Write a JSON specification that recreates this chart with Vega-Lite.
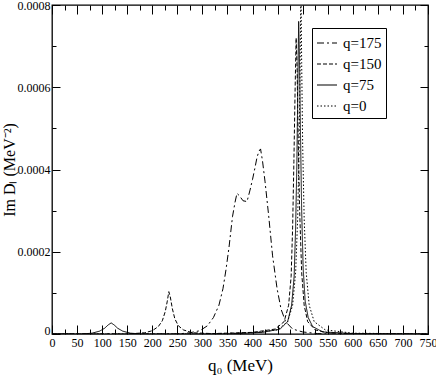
{
  "$schema": "https://vega.github.io/schema/vega-lite/v6.json",
  "width": 376,
  "height": 329,
  "autosize": "none",
  "padding": {"left": 52, "top": 5, "right": 8, "bottom": 48},
  "background": "white",
  "config": {
    "view": {"stroke": "black", "strokeWidth": 1.3},
    "font": "Liberation Serif",
    "axis": {
      "labelFont": "Liberation Serif",
      "titleFont": "Liberation Serif",
      "labelColor": "black",
      "titleColor": "black",
      "tickColor": "black",
      "tickWidth": 1,
      "domain": false,
      "grid": false,
      "titleFontWeight": "normal",
      "labelOverlap": false,
      "labelFlush": false
    }
  },
  "data": {
    "values": [
      {"s": "q=0", "q0": 0, "im": 0},
      {"s": "q=0", "q0": 300, "im": 0},
      {"s": "q=0", "q0": 400, "im": 0.000003},
      {"s": "q=0", "q0": 450, "im": 0.00001},
      {"s": "q=0", "q0": 470, "im": 0.00003},
      {"s": "q=0", "q0": 480, "im": 0.00007},
      {"s": "q=0", "q0": 486, "im": 0.00015},
      {"s": "q=0", "q0": 490, "im": 0.00028},
      {"s": "q=0", "q0": 493, "im": 0.00046},
      {"s": "q=0", "q0": 495, "im": 0.00066},
      {"s": "q=0", "q0": 496.5, "im": 0.00085},
      {"s": "q=0", "q0": 498, "im": 0.00066},
      {"s": "q=0", "q0": 500, "im": 0.00046},
      {"s": "q=0", "q0": 503, "im": 0.00028},
      {"s": "q=0", "q0": 507, "im": 0.00015},
      {"s": "q=0", "q0": 513, "im": 0.00007},
      {"s": "q=0", "q0": 523, "im": 0.00003},
      {"s": "q=0", "q0": 545, "im": 0.00001},
      {"s": "q=0", "q0": 600, "im": 0.000002},
      {"s": "q=0", "q0": 750, "im": 0},

      {"s": "q=75", "q0": 0, "im": 0},
      {"s": "q=75", "q0": 60, "im": 0},
      {"s": "q=75", "q0": 80, "im": 0.000002},
      {"s": "q=75", "q0": 95, "im": 0.000007},
      {"s": "q=75", "q0": 105, "im": 0.000014},
      {"s": "q=75", "q0": 112, "im": 0.000022},
      {"s": "q=75", "q0": 118, "im": 0.000027},
      {"s": "q=75", "q0": 124, "im": 0.000022},
      {"s": "q=75", "q0": 131, "im": 0.000014},
      {"s": "q=75", "q0": 141, "im": 0.000007},
      {"s": "q=75", "q0": 156, "im": 0.000002},
      {"s": "q=75", "q0": 180, "im": 0},
      {"s": "q=75", "q0": 350, "im": 0},
      {"s": "q=75", "q0": 420, "im": 0.000004},
      {"s": "q=75", "q0": 455, "im": 0.000012},
      {"s": "q=75", "q0": 470, "im": 0.00003},
      {"s": "q=75", "q0": 478, "im": 0.00007},
      {"s": "q=75", "q0": 483, "im": 0.00014},
      {"s": "q=75", "q0": 486, "im": 0.00026},
      {"s": "q=75", "q0": 488.5, "im": 0.00042},
      {"s": "q=75", "q0": 490.5, "im": 0.00062},
      {"s": "q=75", "q0": 492, "im": 0.00076},
      {"s": "q=75", "q0": 493.5, "im": 0.00068},
      {"s": "q=75", "q0": 495.5, "im": 0.0005},
      {"s": "q=75", "q0": 498, "im": 0.0003},
      {"s": "q=75", "q0": 501, "im": 0.00016},
      {"s": "q=75", "q0": 505, "im": 0.00008},
      {"s": "q=75", "q0": 511, "im": 0.00004},
      {"s": "q=75", "q0": 520, "im": 0.000018},
      {"s": "q=75", "q0": 540, "im": 0.000005},
      {"s": "q=75", "q0": 600, "im": 0.000001},
      {"s": "q=75", "q0": 750, "im": 0},

      {"s": "q=150", "q0": 0, "im": 0},
      {"s": "q=150", "q0": 150, "im": 0},
      {"s": "q=150", "q0": 185, "im": 0.000003},
      {"s": "q=150", "q0": 200, "im": 0.000008},
      {"s": "q=150", "q0": 212, "im": 0.000018},
      {"s": "q=150", "q0": 220, "im": 0.000032},
      {"s": "q=150", "q0": 226, "im": 0.000055},
      {"s": "q=150", "q0": 230, "im": 0.00008},
      {"s": "q=150", "q0": 233, "im": 0.000103},
      {"s": "q=150", "q0": 236, "im": 0.00009},
      {"s": "q=150", "q0": 240, "im": 0.000062},
      {"s": "q=150", "q0": 245, "im": 0.000037},
      {"s": "q=150", "q0": 252, "im": 0.00002},
      {"s": "q=150", "q0": 262, "im": 0.00001},
      {"s": "q=150", "q0": 280, "im": 0.000003},
      {"s": "q=150", "q0": 320, "im": 0.000001},
      {"s": "q=150", "q0": 400, "im": 0.000004},
      {"s": "q=150", "q0": 445, "im": 0.000012},
      {"s": "q=150", "q0": 463, "im": 0.00003},
      {"s": "q=150", "q0": 472, "im": 0.00007},
      {"s": "q=150", "q0": 477, "im": 0.00014},
      {"s": "q=150", "q0": 480, "im": 0.00026},
      {"s": "q=150", "q0": 482.5, "im": 0.00042},
      {"s": "q=150", "q0": 485, "im": 0.0006},
      {"s": "q=150", "q0": 487, "im": 0.00072},
      {"s": "q=150", "q0": 489, "im": 0.00064},
      {"s": "q=150", "q0": 491, "im": 0.00048},
      {"s": "q=150", "q0": 494, "im": 0.0003},
      {"s": "q=150", "q0": 498, "im": 0.00015},
      {"s": "q=150", "q0": 503, "im": 0.00007},
      {"s": "q=150", "q0": 510, "im": 0.00003},
      {"s": "q=150", "q0": 525, "im": 0.00001},
      {"s": "q=150", "q0": 550, "im": 0.000003},
      {"s": "q=150", "q0": 600, "im": 0},
      {"s": "q=150", "q0": 750, "im": 0},

      {"s": "q=175", "q0": 0, "im": 0},
      {"s": "q=175", "q0": 250, "im": 0},
      {"s": "q=175", "q0": 275, "im": 0.000003},
      {"s": "q=175", "q0": 295, "im": 0.000008},
      {"s": "q=175", "q0": 310, "im": 0.00002},
      {"s": "q=175", "q0": 322, "im": 0.00004},
      {"s": "q=175", "q0": 333, "im": 0.00007},
      {"s": "q=175", "q0": 341, "im": 0.00011},
      {"s": "q=175", "q0": 347, "im": 0.000156},
      {"s": "q=175", "q0": 353, "im": 0.00021},
      {"s": "q=175", "q0": 360, "im": 0.000285},
      {"s": "q=175", "q0": 365, "im": 0.00032},
      {"s": "q=175", "q0": 369, "im": 0.000342},
      {"s": "q=175", "q0": 374, "im": 0.000336},
      {"s": "q=175", "q0": 381, "im": 0.000324},
      {"s": "q=175", "q0": 389, "im": 0.000322},
      {"s": "q=175", "q0": 395, "im": 0.00035},
      {"s": "q=175", "q0": 400, "im": 0.000376},
      {"s": "q=175", "q0": 405, "im": 0.000405},
      {"s": "q=175", "q0": 409, "im": 0.00043},
      {"s": "q=175", "q0": 413, "im": 0.000445},
      {"s": "q=175", "q0": 416, "im": 0.00045},
      {"s": "q=175", "q0": 420, "im": 0.00042},
      {"s": "q=175", "q0": 425, "im": 0.00037},
      {"s": "q=175", "q0": 432, "im": 0.00029},
      {"s": "q=175", "q0": 440, "im": 0.00019},
      {"s": "q=175", "q0": 449, "im": 0.00011},
      {"s": "q=175", "q0": 457, "im": 0.00006},
      {"s": "q=175", "q0": 466, "im": 0.00003},
      {"s": "q=175", "q0": 480, "im": 0.000012},
      {"s": "q=175", "q0": 500, "im": 0.000005},
      {"s": "q=175", "q0": 530, "im": 0.000001},
      {"s": "q=175", "q0": 560, "im": 0},
      {"s": "q=175", "q0": 750, "im": 0}
    ]
  },
  "layer": [
    {
      "mark": {"type": "line", "color": "black", "strokeWidth": 1, "clip": true},
      "encoding": {
        "x": {
          "field": "q0", "type": "quantitative",
          "scale": {"domain": [0, 750], "nice": false, "zero": false},
          "axis": {
            "orient": "bottom",
            "values": [0,25,50,75,100,125,150,175,200,225,250,275,300,325,350,375,400,425,450,475,500,525,550,575,600,625,650,675,700,725,750],
            "labelExpr": "datum.value % 50 === 0 ? datum.label : ''",
            "tickSize": {"condition": {"test": "datum.value % 50 === 0", "value": -9}, "value": -5},
            "labelPadding": 12,
            "labelFontSize": 12,
            "title": "q₀ (MeV)",
            "titleFontSize": 17,
            "titlePadding": 5
          }
        },
        "y": {
          "field": "im", "type": "quantitative",
          "scale": {"domain": [0, 0.0008], "nice": false},
          "axis": {
            "orient": "left",
            "values": [0, 0.0001, 0.0002, 0.0003, 0.0004, 0.0005, 0.0006, 0.0007, 0.0008],
            "labelExpr": "round(datum.value*10000) % 2 === 0 ? (datum.value === 0 ? '0' : format(datum.value, '.4f')) : ''",
            "tickSize": {"condition": {"test": "round(datum.value*10000) % 2 === 0", "value": -8}, "value": -4},
            "labelPadding": 10,
            "labelOffset": {"condition": {"test": "datum.value === 0", "value": -4}, "value": 0},
            "labelFontSize": 12,
            "title": "Im Dₗ (MeV⁻²)",
            "titleFontSize": 16,
            "titlePadding": 0
          }
        },
        "strokeDash": {
          "field": "s", "type": "nominal",
          "scale": {
            "domain": ["q=175", "q=150", "q=75", "q=0"],
            "range": [[7, 3, 2, 3], [4, 2], [1, 0], [1.5, 2]]
          },
          "legend": {
            "title": null,
            "orient": "none",
            "legendX": 260,
            "legendY": 23,
            "strokeColor": "black",
            "fillColor": "white",
            "padding": 4,
            "symbolType": "stroke",
            "symbolSize": 400,
            "symbolStrokeColor": "black",
            "symbolStrokeWidth": 1.2,
            "labelFont": "Liberation Serif",
            "labelFontSize": 15,
            "labelColor": "black",
            "rowPadding": 2,
            "labelOffset": 5
          }
        }
      }
    },
    {
      "mark": {"type": "line", "opacity": 0, "clip": true},
      "encoding": {
        "detail": {"field": "s"},
        "x": {
          "field": "q0", "type": "quantitative",
          "axis": {
            "orient": "top",
            "values": [0,25,50,75,100,125,150,175,200,225,250,275,300,325,350,375,400,425,450,475,500,525,550,575,600,625,650,675,700,725,750],
            "labels": false,
            "tickSize": {"condition": {"test": "datum.value % 50 === 0", "value": -9}, "value": -5},
            "title": null
          }
        },
        "y": {
          "field": "im", "type": "quantitative",
          "axis": {
            "orient": "right",
            "values": [0, 0.0001, 0.0002, 0.0003, 0.0004, 0.0005, 0.0006, 0.0007, 0.0008],
            "labels": false,
            "tickSize": {"condition": {"test": "round(datum.value*10000) % 2 === 0", "value": -8}, "value": -4},
            "title": null
          }
        }
      }
    }
  ]
}
